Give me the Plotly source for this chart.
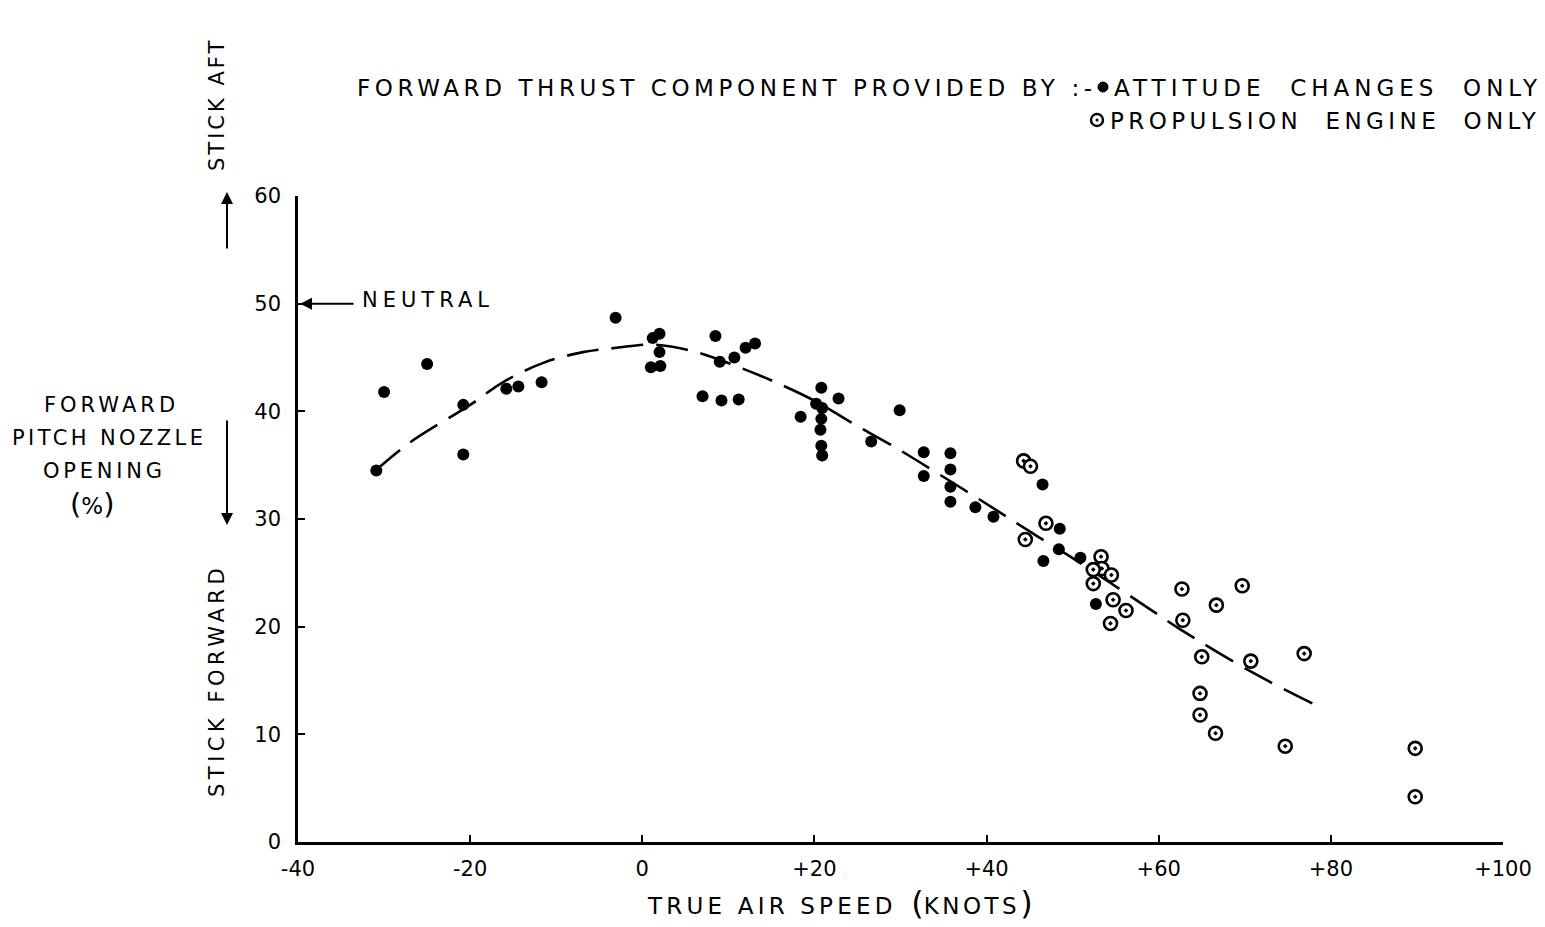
import plotly.graph_objects as go

# Attitude changes only (filled markers)
att_x = [-30.9, -30.0, -25.0, -20.8, -20.8, -15.8, -14.4, -11.7, -3.1, 1.2, 2.0, 2.0, 1.0, 2.1,
         7.0, 8.5, 9.0, 9.2, 10.7, 11.2, 12.0, 13.1, 18.4, 20.2, 20.8, 20.9, 20.8, 20.7, 20.8, 20.9,
         22.8, 26.6, 29.9, 32.7, 32.7, 35.8, 35.8, 35.8, 35.8, 38.7, 40.8, 46.5, 46.6, 48.4, 48.5,
         50.9, 52.7]
att_y = [34.5, 41.8, 44.4, 40.6, 36.0, 42.1, 42.3, 42.7, 48.7, 46.8, 47.2, 45.5, 44.1, 44.2,
         41.4, 47.0, 44.6, 41.0, 45.0, 41.1, 45.9, 46.3, 39.5, 40.7, 42.2, 40.3, 39.3, 38.3, 36.8, 35.9,
         41.2, 37.2, 40.1, 36.2, 34.0, 36.1, 34.6, 33.0, 31.6, 31.1, 30.2, 33.2, 26.1, 27.2, 29.1,
         26.4, 22.1]

# Propulsion engine only (open markers)
prop_x = [44.3, 45.1, 46.9, 44.5, 53.3, 53.4, 52.4, 54.5, 52.4, 54.7, 56.2, 54.4, 62.7, 69.7,
          66.7, 62.8, 65.0, 70.7, 76.9, 64.8, 64.8, 66.6, 74.7, 89.8, 89.8]
prop_y = [35.4, 34.9, 29.6, 28.1, 26.5, 25.4, 25.3, 24.8, 24.0, 22.5, 21.5, 20.3, 23.5, 23.8,
          22.0, 20.6, 17.2, 16.8, 17.5, 13.8, 11.8, 10.1, 8.9, 8.7, 4.2]

# Faired curve (dashed)
curve_x = [-31.0, -27.0, -20.0, -16.2, -11.5, -6.9, -3.0, 1.3, 6.3, 10.9, 15.2, 20.2, 24.2, 29.5,
           34.4, 40.2, 45.1, 50.9, 59.4, 62.6, 71.0, 78.8]
curve_y = [34.5, 37.1, 40.6, 42.7, 44.5, 45.5, 45.9, 46.2, 45.5, 44.2, 42.8, 40.9, 39.0, 36.6,
           34.2, 31.3, 28.8, 25.9, 21.4, 19.7, 15.7, 12.5]

x_ticks = [-40, -20, 0, 20, 40, 60, 80, 100]
x_tick_text = ["-40", "-20", "0", "+20", "+40", "+60", "+80", "+100"]
y_ticks = [0, 10, 20, 30, 40, 50, 60]

FONT = "DejaVu Sans"
OFF = 8  # page body margin
W, H = 1545 - OFF, 927 - OFF
L, T = 298 - OFF, 196 - OFF
R = W - (1503 - OFF)
B = H - (842 - OFF)
PW, PH = W - L - R, H - T - B

fig = go.Figure()
fig.add_trace(go.Scatter(x=curve_x, y=curve_y, mode="lines",
                         line=dict(color="black", width=2.6, dash="32px,13px", shape="spline"),
                         showlegend=False, hoverinfo="skip"))
fig.add_trace(go.Scatter(x=att_x, y=att_y, mode="markers",
                         marker=dict(symbol="circle", size=12, color="black",
                                     line=dict(color="black", width=0)),
                         showlegend=False))
fig.add_trace(go.Scatter(x=prop_x, y=prop_y, mode="markers",
                         marker=dict(symbol="circle-dot", size=13, color="white",
                                     line=dict(color="black", width=2.6)),
                         showlegend=False))


def px(xp):
    return (xp - OFF - L) / PW


def py(yp):
    return (H - B - (yp - OFF)) / PH


def sp(t, ls):
    return '<span style="letter-spacing:%gpx">%s</span>' % (ls, t)


ann = []


def text(t, x, y, size=21, xanchor="left", angle=0):
    ann.append(dict(text=t, x=px(x), y=py(y), xref="paper", yref="paper", showarrow=False,
                    xanchor=xanchor, yanchor="middle", textangle=angle,
                    font=dict(family=FONT, size=size, color="black")))


text(sp("FORWARD THRUST COMPONENT PROVIDED BY :-", 4.6), 355, 88, size=23)
text(sp("ATTITUDE  CHANGES  ONLY", 5.0), 1112, 88, size=23)
text(sp("PROPULSION  ENGINE  ONLY", 4.4), 1108, 121, size=23)
text(sp("FORWARD", 4.0), 111, 405, size=21, xanchor="center")
text(sp("PITCH NOZZLE", 3.4), 109, 438, size=21, xanchor="center")
text(sp("OPENING", 3.8), 104, 471, size=21, xanchor="center")
text('<span style="font-size:29px">(</span>%<span style="font-size:29px">)</span>',
     92, 504, size=23, xanchor="center")
text(sp("STICK AFT", 3), 217, 105, size=21, xanchor="center", angle=-90)
text(sp("STICK FORWARD", 4.5), 217, 681, size=21, xanchor="center", angle=-90)
text(sp("TRUE AIR SPEED", 4.2) + '  <span style="font-size:32px">(</span>'
     + sp("KNOTS", 3.5) + '<span style="font-size:32px">)</span>',
     840, 903, size=23, xanchor="center")

# NEUTRAL label and arrow
ann.append(dict(text=sp("NEUTRAL", 5), x=-40, y=50, xref="x", yref="y", showarrow=False,
                xanchor="left", yanchor="middle", xshift=62, yshift=4,
                font=dict(family=FONT, size=21, color="black")))
ann.append(dict(text="", x=-40, y=50, xref="x", yref="y", showarrow=True,
                ax=57, ay=0, arrowhead=2, arrowsize=1.2, arrowwidth=2, arrowcolor="black",
                standoff=2))
# stick aft / forward arrows
ann.append(dict(text="", x=px(227), y=py(192), xref="paper", yref="paper", showarrow=True,
                ax=0, ay=58, arrowhead=2, arrowsize=1.2, arrowwidth=2, arrowcolor="black"))
ann.append(dict(text="", x=px(227), y=py(525), xref="paper", yref="paper", showarrow=True,
                ax=0, ay=-106, arrowhead=2, arrowsize=1.2, arrowwidth=2, arrowcolor="black"))

shapes = [
    dict(type="circle", xref="paper", yref="paper",
         x0=px(1098), x1=px(1108), y0=py(82), y1=py(92),
         fillcolor="black", line=dict(color="black", width=1)),
    dict(type="circle", xref="paper", yref="paper",
         x0=px(1091), x1=px(1103), y0=py(114), y1=py(126),
         fillcolor="white", line=dict(color="black", width=2.4)),
    dict(type="circle", xref="paper", yref="paper",
         x0=px(1095.5), x1=px(1098.5), y0=py(118.5), y1=py(121.5),
         fillcolor="black", line=dict(color="black", width=0)),
]

fig.update_layout(
    width=W, height=H,
    margin=dict(l=L, r=R, t=T, b=B, autoexpand=False),
    paper_bgcolor="white", plot_bgcolor="white",
    showlegend=False,
    annotations=ann, shapes=shapes,
    font=dict(family=FONT, size=21, color="black"),
)
fig.update_xaxes(range=[-40, 100], tickvals=x_ticks, ticktext=x_tick_text,
                 showgrid=False, zeroline=False, showline=True, linecolor="black", linewidth=2.5,
                 ticks="inside", ticklen=7, tickwidth=1.6, tickcolor="black",
                 ticklabelstandoff=6,
                 tickfont=dict(family=FONT, size=21, color="black"))
fig.update_yaxes(range=[0, 60], tickvals=y_ticks,
                 showgrid=False, zeroline=False, showline=True, linecolor="black", linewidth=2.5,
                 ticks="inside", ticklen=7, tickwidth=1.6, tickcolor="black",
                 ticklabelstandoff=10,
                 tickfont=dict(family=FONT, size=21, color="black"))

fig.write_html("out.html")
